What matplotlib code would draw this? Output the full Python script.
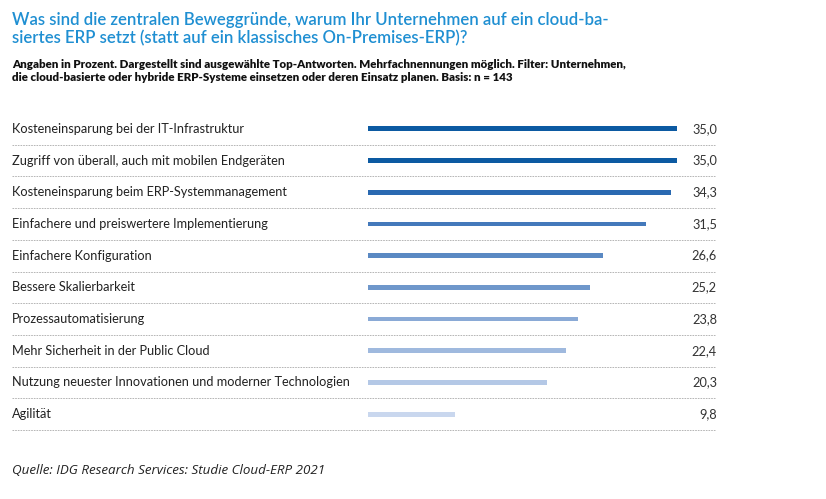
import matplotlib
matplotlib.use('Agg')
import matplotlib.pyplot as plt
import matplotlib.transforms as mtransforms

# Daten
labels = [
    "Kosteneinsparung bei der IT-Infrastruktur",
    "Zugriff von überall, auch mit mobilen Endgeräten",
    "Kosteneinsparung beim ERP-Systemmanagement",
    "Einfachere und preiswertere Implementierung",
    "Einfachere Konfiguration",
    "Bessere Skalierbarkeit",
    "Prozessautomatisierung",
    "Mehr Sicherheit in der Public Cloud",
    "Nutzung neuester Innovationen und moderner Technologien",
    "Agilität",
]
values = [35.0, 35.0, 34.3, 31.5, 26.6, 25.2, 23.8, 22.4, 20.3, 9.8]
colors = ["#0c5aa2", "#0c5aa2", "#2a69b1", "#4479bb", "#5a89c3",
          "#6f97cb", "#8aaad6", "#9fb9de", "#b4c8e6", "#c9d7ee"]

W, H = 826, 499
fig = plt.figure(figsize=(W / 100, H / 100), dpi=100)

# Achse: 0 bei x=368px, 35 bei x=677px; Zeilen von y=113px bis 430px
ax = fig.add_axes([368 / W, 1 - 430 / H, 309 / W, 317 / H])
ax.set_xlim(0, 35)
ax.set_ylim(len(values) - 0.5, -0.5)
ax.axis('off')

ypos = list(range(len(values)))
ax.barh(ypos, values, height=0.15, color=colors)

trans = mtransforms.blended_transform_factory(fig.transFigure, ax.transData)
for i, (lab, v) in enumerate(zip(labels, values)):
    ax.text(12 / W, i, lab, transform=trans, ha='left', va='center',
            fontsize=9.2, family='Lato', color='#222222')
    ax.text(717 / W, i, f"{v:.1f}".replace('.', ','), transform=trans,
            ha='right', va='center', fontsize=9.2, family='Lato', color='#333333')
    ax.plot([12 / W, 716 / W], [i + 0.5, i + 0.5], transform=trans,
            color='#aaaaaa', lw=0.6, ls=(0, (2, 1.2)), clip_on=False)

# Titel und Untertitel
fig.text(12 / W, 1 - 20 / H,
         "Was sind die zentralen Beweggründe, warum Ihr Unternehmen auf ein cloud-ba-",
         fontsize=12.1, color='#1f8fd2', family='Lato', weight='semibold', va='center')
fig.text(12 / W, 1 - 38 / H,
         "siertes ERP setzt (statt auf ein klassisches On-Premises-ERP)?",
         fontsize=12.1, color='#1f8fd2', family='Lato', weight='semibold', va='center')
fig.text(12 / W, 1 - 64 / H,
         "Angaben in Prozent. Dargestellt sind ausgewählte Top-Antworten. Mehrfachnennungen möglich. Filter: Unternehmen,",
         fontsize=8.3, color='#111111', family='Lato', weight='heavy', va='center')
fig.text(12 / W, 1 - 78 / H,
         "die cloud-basierte oder hybride ERP-Systeme einsetzen oder deren Einsatz planen. Basis: n = 143",
         fontsize=8.3, color='#111111', family='Lato', weight='heavy', va='center')

# Quelle
fig.text(12 / W, 1 - 470 / H, "Quelle: IDG Research Services: Studie Cloud-ERP 2021",
         fontsize=9.6, style='italic', family='Open Sans', color='#222222', va='center')

plt.savefig("out.png", dpi=100)
